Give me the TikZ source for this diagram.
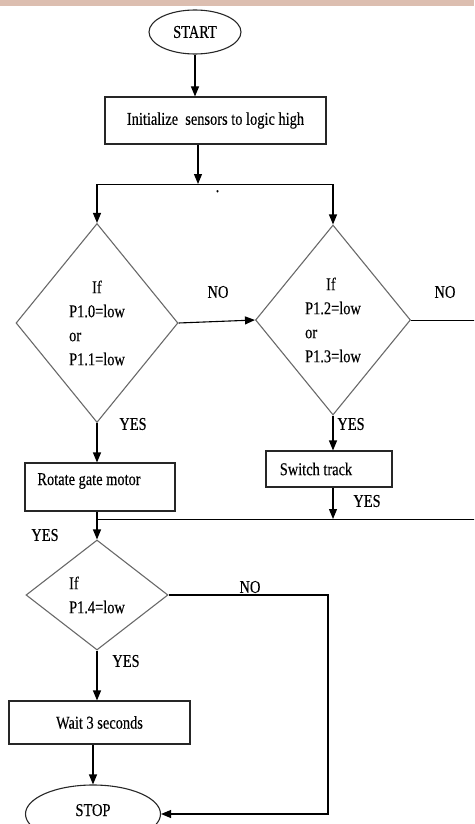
\documentclass[tikz,border=0pt]{standalone}
\usepackage{fontspec}
\setmainfont{Liberation Serif}[FakeStretch=0.8, FakeBold=0.3]
\usetikzlibrary{shapes,arrows.meta,positioning}
\definecolor{sandbrown}{RGB}{220,190,176}
\definecolor{linegray}{RGB}{105,105,105}

\tikzset{
  every node/.style={font=\fontsize{18}{24}\selectfont},
  terminal/.style={ellipse, draw=black!85, line width=1.1pt, inner sep=0pt},
  process/.style={rectangle, draw=black!85, line width=1.1pt, inner sep=0pt},
  decision/.style={diamond, draw=linegray, line width=1.1pt, inner sep=0pt, align=left},
  flow/.style={-{Triangle[length=10pt,width=8pt]}, line width=1.1pt},
}

\begin{document}
\begin{tikzpicture}[x=1pt, y=-1pt]

    \useasboundingbox (0,0) rectangle (474,824);
    \clip (0,0) rectangle (474,824);
    \fill[sandbrown] (0,0) rectangle (474,6);

    % top part
    \node[terminal, minimum width=92pt, minimum height=44pt] (start) at (195,32) {START};
    \node[process, minimum width=221pt, minimum height=47pt] (init) at (215.5,120.5) {Initialize\ \ sensors to logic high};
    \coordinate (split) at (198,184);
    \coordinate (lsplit) at (97,184);
    \coordinate (rsplit) at (333,184);
    \node[inner sep=0pt, anchor=base] (dot) at (217.5,192) {.};

    % the two sensor checks
    \node[decision, minimum width=162pt, minimum height=199pt] (dec1) at (97,323) {\hspace*{23pt}If\\P1.0=low\\or\\P1.1=low};
    \node[decision, minimum width=155pt, minimum height=190pt] (dec2) at (333,320) {\hspace*{21pt}If\\P1.2=low\\or\\P1.3=low};
    \coordinate (rout) at (480,320);

    \node[process, minimum width=150pt, minimum height=48pt, text height=13pt, text depth=17pt] (rotate) at (100,487) {Rotate gate motor\hspace*{22pt}};
    \node[process, minimum width=126pt, minimum height=36pt] (switch) at (329,469) {Switch track\hspace*{26pt}};
    \coordinate (join1) at (97,519);
    \coordinate (join2) at (333,519);
    \coordinate (jout) at (480,519);

    % bottom part
    \node[decision, minimum width=142pt, minimum height=110pt] (dec3) at (97,595) {If\\P1.4=low};
    \coordinate (nocorner) at (328,700);
    \node[process, minimum width=181pt, minimum height=43pt] (wait) at (99.5,722.5) {Wait 3 seconds};
    \node[terminal, minimum width=135pt, minimum height=58pt, text height=13pt, text depth=9pt] (stop) at (93,814) {STOP};

    \node (no1) at (218,292) {NO};
    \node (no2) at (445,292) {NO};
    \node (yes1) at (133,424) {YES};
    \node (yes2) at (351,424) {YES};
    \node (yes3) at (367,501) {YES};
    \node (yes4) at (45,535) {YES};
    \node (no3) at (250,587) {NO};
    \node (yes5) at (126,661) {YES};

    \draw[flow] (start) -- (start |- init.north);
    \draw[flow] (init.south -| split) -- (split);
    \draw (lsplit) -- (rsplit);
    \draw[flow] (lsplit) -- (dec1.north);
    \draw[flow] (rsplit) -- (dec2.north);
    \draw[flow] (dec1.east) -- (dec2.west);
    \draw (dec2.east) -- (rout);
    \draw[flow] (dec1.south) -- (rotate.north -| dec1.south);
    \draw[flow] (dec2.south) -- (switch.north -| dec2.south);
    \draw[flow] (switch.south -| join2) -- (join2);
    \draw (join1) -- (jout);
    \draw[flow] (rotate.south -| join1) -- (dec3.north);
    \draw[flow] (dec3.east) -| (nocorner) |- (stop.east);
    \draw[flow] (dec3.south) -- (wait.north -| dec3.south);
    \draw[flow] (stop.north |- wait.south) -- (stop.north);

\end{tikzpicture}
\end{document}
